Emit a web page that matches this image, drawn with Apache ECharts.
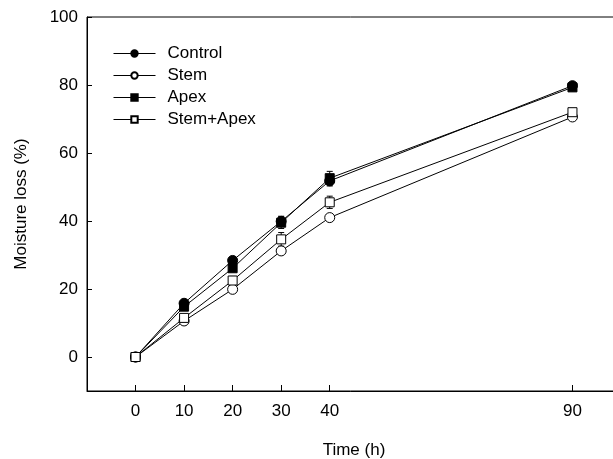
<!DOCTYPE html>
<html>
<head>
<meta charset="utf-8">
<script src="https://cdn.jsdelivr.net/npm/echarts@6/dist/echarts.min.js"></script>
<style>
html,body{margin:0;padding:0;background:#fff;}
#chart{width:613px;height:459px;}
</style>
</head>
<body>
<div id="chart"></div>
<script>
const times = [0, 10, 20, 30, 40, 90];
const xTicks = [0, 10, 20, 30, 40, 90];
const yTicks = [0, 20, 40, 60, 80, 100];
const seriesNames = ['Control', 'Stem', 'Apex', 'Stem+Apex'];
const control = [0, 15.8, 28.4, 39.9, 51.8, 79.8];
const stem = [0, 10.6, 19.9, 31.2, 41.0, 70.6];
const apex = [0, 14.8, 26.1, 39.5, 52.6, 79.3];
const stemApex = [0, 11.5, 22.5, 34.6, 45.5, 72.0];
const controlErr = [0, 0.6, 0.8, 1.5, 1.5, 0.8];
const stemErr = [0, 0.5, 0.6, 0.8, 0.8, 0.8];
const apexErr = [0, 0.6, 0.8, 1.7, 2.0, 0.8];
const stemApexErr = [0, 0.8, 1.2, 2.0, 1.8, 0.8];

const FONT = 'Liberation Sans, Arial, sans-serif';
const values = [control, stem, apex, stemApex];
const errs = [controlErr, stemErr, apexErr, stemApexErr];
const styles = [
  {symbol: 'circle', size: 10, fill: '#000'},
  {symbol: 'circle', size: 10, fill: '#fff'},
  {symbol: 'rect', size: 9, fill: '#000'},
  {symbol: 'rect', size: 9, fill: '#fff'}
];

const series = [];
values.forEach((vals, i) => {
  series.push({
    type: 'custom',
    silent: true,
    z: 1,
    data: times.map((t, k) => [t, vals[k], errs[i][k]]),
    renderItem: function (params, api) {
      const x = api.value(0), y = api.value(1), e = api.value(2);
      if (!e) return null;
      const top = api.coord([x, y + e]);
      const bot = api.coord([x, y - e]);
      const w = 3;
      const st = {stroke: '#000', lineWidth: 1};
      return {
        type: 'group',
        children: [
          {type: 'line', shape: {x1: top[0], y1: top[1], x2: bot[0], y2: bot[1]}, style: st},
          {type: 'line', shape: {x1: top[0] - w, y1: top[1], x2: top[0] + w, y2: top[1]}, style: st},
          {type: 'line', shape: {x1: bot[0] - w, y1: bot[1], x2: bot[0] + w, y2: bot[1]}, style: st}
        ]
      };
    }
  });
});
values.forEach((vals, i) => {
  series.push({
    name: seriesNames[i],
    type: 'line',
    z: 3,
    data: times.map((t, k) => [t, vals[k]]),
    symbol: styles[i].symbol,
    symbolSize: styles[i].size,
    showAllSymbol: true,
    lineStyle: {color: '#000', width: 1},
    itemStyle: {color: styles[i].fill, borderColor: '#000', borderWidth: 1, opacity: 1},
    emphasis: {disabled: true},
    animation: false
  });
});

const chart = echarts.init(document.getElementById('chart'), null, {renderer: 'canvas'});
chart.setOption({
  animation: false,
  backgroundColor: '#fff',
  grid: {left: 87, right: -8, top: 17, bottom: 68, outerBoundsMode: 'none', containLabel: false, show: true, borderColor: '#000', borderWidth: 1, backgroundColor: 'transparent'},
  legend: {
    data: seriesNames,
    orient: 'vertical',
    left: 113,
    top: 45,
    padding: 0,
    itemWidth: 42,
    itemHeight: 8,
    itemGap: 5,
    lineStyle: {width: 1, color: '#000'},
    textStyle: {fontFamily: FONT, fontSize: 17, color: '#000', lineHeight: 17, padding: [0, 0, 0, 7]},
    selectedMode: false
  },
  xAxis: {
    type: 'value',
    min: -10,
    max: 100,
    name: 'Time (h)',
    nameLocation: 'middle',
    nameGap: 51,
    nameTextStyle: {fontFamily: FONT, fontSize: 17, color: '#000'},
    axisLine: {show: true, onZero: false, lineStyle: {color: '#000', width: 1}},
    axisTick: {show: true, inside: true, length: 6, customValues: xTicks, lineStyle: {color: '#000'}},
    axisLabel: {customValues: xTicks, fontFamily: FONT, fontSize: 17, color: '#000', margin: 12},
    splitLine: {show: false}
  },
  yAxis: {
    type: 'value',
    min: -10,
    max: 100,
    name: 'Moisture loss (%)',
    nameLocation: 'middle',
    nameGap: 57,
    nameTextStyle: {fontFamily: FONT, fontSize: 17, color: '#000'},
    axisLine: {show: true, onZero: false, lineStyle: {color: '#000', width: 1}},
    axisTick: {show: true, inside: true, length: 5, customValues: yTicks, lineStyle: {color: '#000'}},
    axisLabel: {customValues: yTicks, fontFamily: FONT, fontSize: 17, color: '#000', margin: 9},
    splitLine: {show: false}
  },
  series: series
});
</script>
</body>
</html>
